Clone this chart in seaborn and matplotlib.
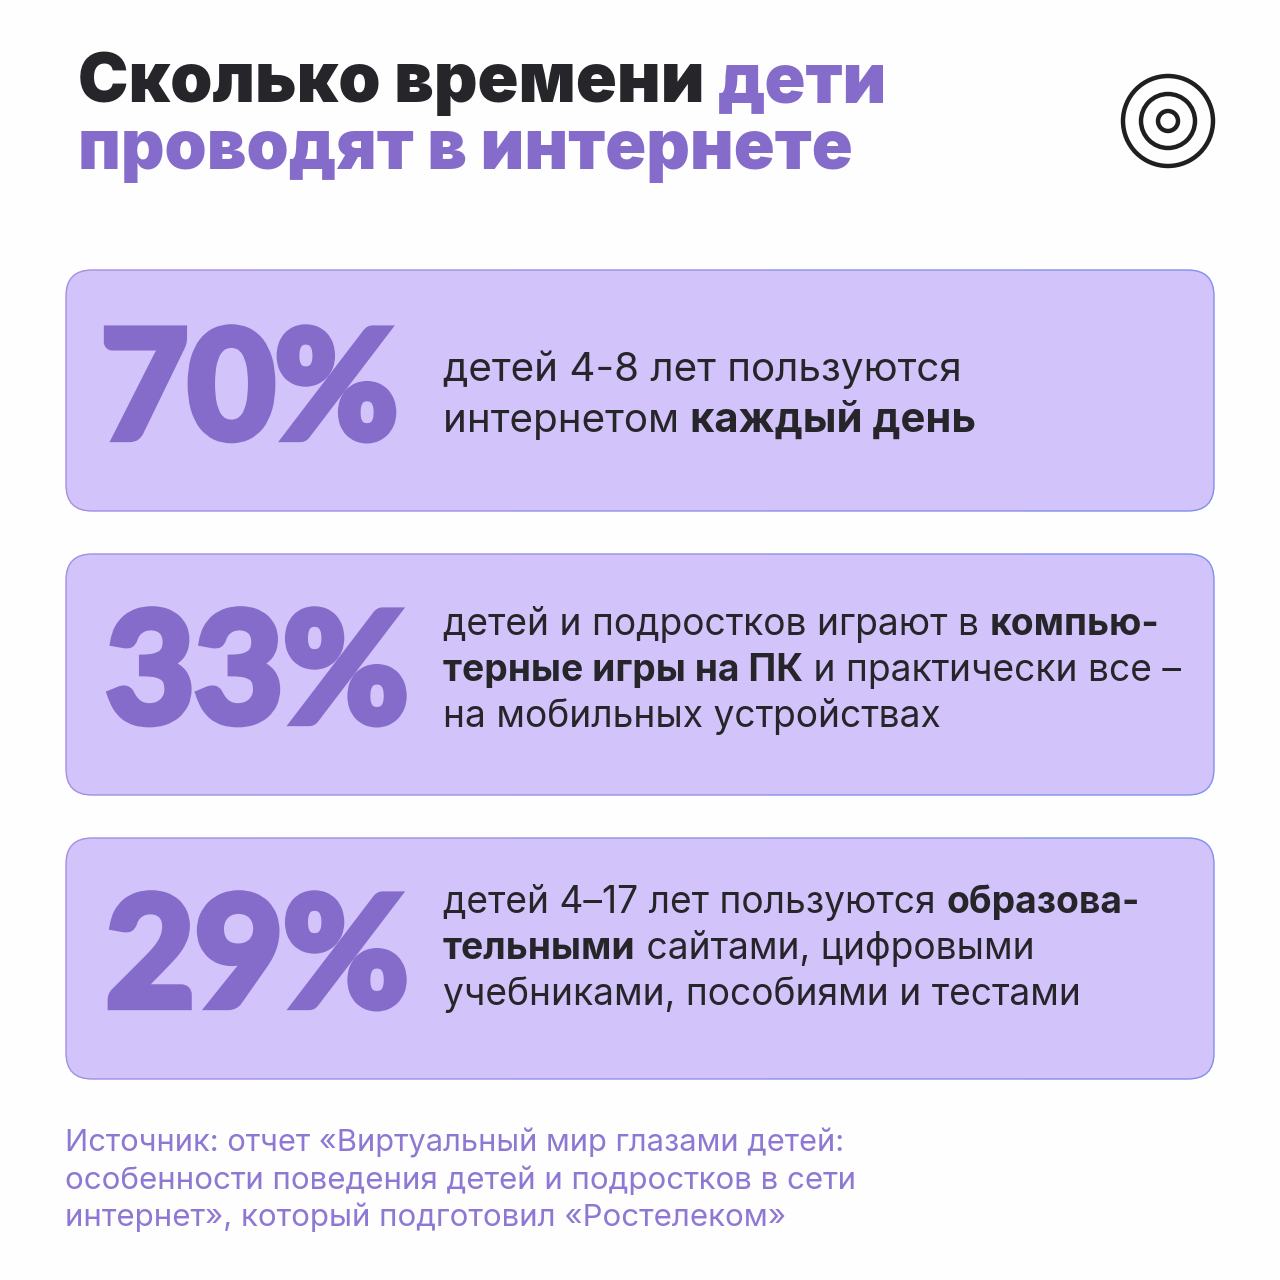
import matplotlib
matplotlib.use('Agg')
import matplotlib.pyplot as plt
import matplotlib.patheffects as pe
import seaborn as sns
from matplotlib.patches import Circle, FancyBboxPatch, Rectangle

BG = '#fefefe'
CARD = '#d3c3fb'
VIOLET = '#856ccb'
DARK = '#262529'
SOURCE = '#8e78d3'
# card outline goes from purple on the left to blue on the right
EDGE_STEPS = ['#a48fe0', '#9d90e2', '#9490e6', '#8a90ea', '#7f90ee']

# chart content
percent_labels = ['70%', '33%', '29%']
percent_x = [101, 106, 106]
percent_sizes = [108, 110, 110]
card_tops = [270, 554, 838]

# (text, bold) runs for every line of every card
card_lines = [
    [[('детей 4-8 лет пользуются', False)],
     [('интернетом ', False), ('каждый день', True)]],
    [[('детей и подростков играют в ', False), ('компью-', True)],
     [('терные игры на ПК', True), (' и практически все –', False)],
     [('на мобильных устройствах', False)]],
    [[('детей 4–17 лет пользуются ', False), ('образова-', True)],
     [('тельными', True), (' сайтами, цифровыми', False)],
     [('учебниками, пособиями и тестами', False)]],
]
line_baselines = [[381, 432], [635, 681, 727], [913, 959, 1005]]
# first card is set a little larger than the other two
regular_sizes = [29.1, 26.75, 26.75]
bold_sizes = [30.1, 26.8, 26.8]

title_lines = [[('Сколько времени ', DARK), ('дети', VIOLET)],
               [('проводят в интернете', VIOLET)]]
title_baselines = [102, 169]

source_lines = ['Источник: отчет «Виртуальный мир глазами детей:',
                'особенности поведения детей и подростков в сети',
                'интернет», который подготовил «Ростелеком»']
source_baselines = [1152, 1189, 1226]
source_sizes = [22.2, 22.5, 22.5]

sns.set_theme(style='white')
plt.rcParams['font.family'] = ['Inter', 'DejaVu Sans']

fig = plt.figure(figsize=(12.8, 12.8), dpi=100, facecolor=BG)
ax = fig.add_axes([0, 0, 1, 1])
ax.set_xlim(0, 1280)
ax.set_ylim(1280, 0)
ax.axis('off')
renderer = fig.canvas.get_renderer()


def put_runs(x, y, runs):
    # draw text pieces one after the other on the same baseline
    for text, kwargs in runs:
        t = ax.text(x, y, text, va='baseline', ha='left', **kwargs)
        x += t.get_window_extent(renderer).width


def card_box(top, **kwargs):
    return FancyBboxPatch((66 + 26, top + 26), 1148 - 52, 241 - 52,
                          boxstyle='round,pad=26,rounding_size=26', **kwargs)


# title
for line, base in zip(title_lines, title_baselines):
    put_runs(78, base, [(s, dict(color=c, fontsize=48.7, fontweight='black')) for s, c in line])

# target icon
for r in [45, 27, 10]:
    ax.add_patch(Circle((1168, 121), r, fill=False, ec='#1f1f22', lw=3.2))

# cards
step_w = 1280 / len(EDGE_STEPS)
for i, top in enumerate(card_tops):
    ax.add_patch(card_box(top, fc=CARD, ec='none'))
    for k, col in enumerate(EDGE_STEPS):
        outline = ax.add_patch(card_box(top, fc='none', ec=col, lw=1))
        outline.set_clip_path(Rectangle((k * step_w, 0), step_w, 1280, transform=ax.transData))
    # Lato has no heavier cut here, so thicken the digits with a stroke
    ax.text(percent_x[i], top + 168, percent_labels[i], color=VIOLET, fontsize=percent_sizes[i],
            family='Lato', fontweight='bold', va='baseline', ha='left',
            path_effects=[pe.withStroke(linewidth=6, foreground=VIOLET, joinstyle='miter')])
    for line, base in zip(card_lines[i], line_baselines[i]):
        put_runs(443, base, [(s, dict(color=DARK,
                                      fontsize=bold_sizes[i] if b else regular_sizes[i],
                                      fontweight='bold' if b else 'normal')) for s, b in line])

# source note
for line, base, size in zip(source_lines, source_baselines, source_sizes):
    ax.text(65, base, line, color=SOURCE, fontsize=size, va='baseline', ha='left')

fig.savefig('out.png', dpi=100, facecolor=BG)
